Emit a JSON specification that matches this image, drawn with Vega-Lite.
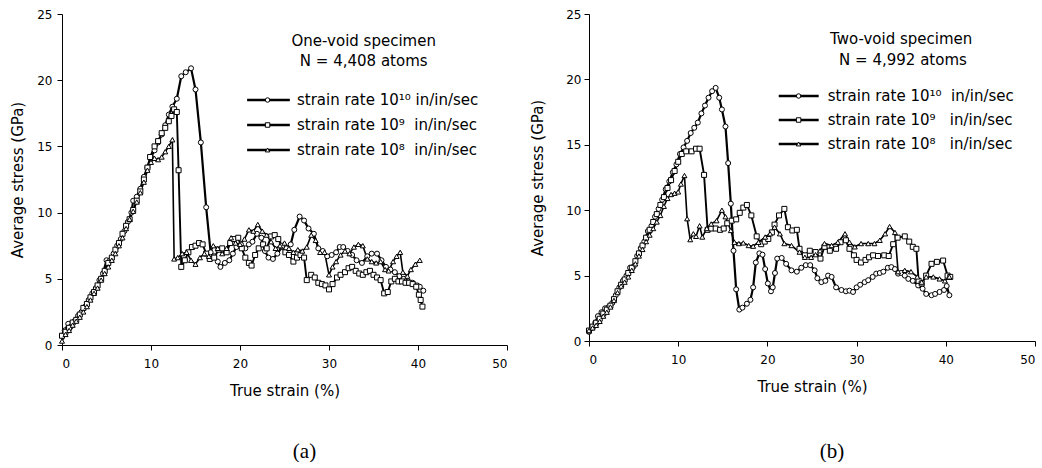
{
"$schema": "https://vega.github.io/schema/vega-lite/v6.json",
"padding": {"left": 10, "top": 8, "right": 0, "bottom": 0},
"bounds": "flush",
"spacing": 82,
"config": {
 "view": {"stroke": null},
 "font": "DejaVu Sans",
 "axis": {"grid": false, "domainColor": "black", "tickColor": "black", "labelColor": "black", "titleColor": "black", "labelFont": "DejaVu Sans", "labelFontSize": 12, "titleFont": "DejaVu Sans", "titleFontSize": 15, "titleFontWeight": "normal", "tickSize": 5, "domainWidth": 1, "tickWidth": 1},
 "title": {"font": "Liberation Serif", "fontSize": 21, "fontWeight": "normal", "color": "black"}
},
"datasets": {
"a": [
{"s":"r10","x":0,"y":0.7},{"s":"r10","x":0.3,"y":1.1},{"s":"r10","x":0.7,"y":1.6},{"s":"r10","x":1.0,"y":1.4},{"s":"r10","x":1.4,"y":1.8},{"s":"r10","x":1.8,"y":2.2},{"s":"r10","x":2.2,"y":2.5},{"s":"r10","x":2.6,"y":2.9},{"s":"r10","x":3.0,"y":3.4},{"s":"r10","x":3.4,"y":3.9},{"s":"r10","x":3.8,"y":4.3},{"s":"r10","x":4.2,"y":4.9},{"s":"r10","x":4.6,"y":5.4},{"s":"r10","x":5.0,"y":6.4},{"s":"r10","x":5.4,"y":6.4},{"s":"r10","x":5.8,"y":6.9},{"s":"r10","x":6.2,"y":7.5},{"s":"r10","x":6.6,"y":8.0},{"s":"r10","x":7.0,"y":8.6},{"s":"r10","x":7.4,"y":9.3},{"s":"r10","x":7.8,"y":10.0},{"s":"r10","x":8.0,"y":10.9},{"s":"r10","x":8.4,"y":11.2},{"s":"r10","x":8.8,"y":11.8},{"s":"r10","x":9.2,"y":12.7},{"s":"r10","x":9.6,"y":13.4},{"s":"r10","x":10.0,"y":14.2},{"s":"r10","x":10.4,"y":14.7},{"s":"r10","x":10.8,"y":15.3},{"s":"r10","x":11.2,"y":15.9},{"s":"r10","x":11.6,"y":16.6},{"s":"r10","x":12.0,"y":17.4},{"s":"r10","x":12.4,"y":18.0},{"s":"r10","x":12.9,"y":18.6},{"s":"r10","x":13.4,"y":20.3},{"s":"r10","x":13.9,"y":20.6},{"s":"r10","x":14.5,"y":20.9},{"s":"r10","x":15.0,"y":19.3},{"s":"r10","x":15.6,"y":15.3},{"s":"r10","x":16.2,"y":10.4},{"s":"r10","x":16.7,"y":7.0},{"s":"r10","x":17.1,"y":6.7},{"s":"r10","x":17.5,"y":6.3},{"s":"r10","x":17.8,"y":5.9},{"s":"r10","x":18.3,"y":6.2},{"s":"r10","x":18.8,"y":6.4},{"s":"r10","x":19.2,"y":6.9},{"s":"r10","x":19.6,"y":7.4},{"s":"r10","x":20.1,"y":7.6},{"s":"r10","x":20.6,"y":7.3},{"s":"r10","x":21.0,"y":7.6},{"s":"r10","x":21.4,"y":7.8},{"s":"r10","x":21.9,"y":8.4},{"s":"r10","x":22.4,"y":8.1},{"s":"r10","x":22.8,"y":7.1},{"s":"r10","x":23.2,"y":6.6},{"s":"r10","x":23.7,"y":6.5},{"s":"r10","x":24.2,"y":6.9},{"s":"r10","x":24.7,"y":7.4},{"s":"r10","x":25.2,"y":7.3},{"s":"r10","x":25.7,"y":7.6},{"s":"r10","x":26.1,"y":8.7},{"s":"r10","x":26.7,"y":9.7},{"s":"r10","x":27.2,"y":9.4},{"s":"r10","x":27.7,"y":8.8},{"s":"r10","x":28.3,"y":8.4},{"s":"r10","x":28.8,"y":7.3},{"s":"r10","x":29.3,"y":7.1},{"s":"r10","x":29.8,"y":6.7},{"s":"r10","x":30.3,"y":6.8},{"s":"r10","x":30.8,"y":7.0},{"s":"r10","x":31.2,"y":7.4},{"s":"r10","x":31.6,"y":7.4},{"s":"r10","x":32.1,"y":7.1},{"s":"r10","x":32.6,"y":6.8},{"s":"r10","x":33.1,"y":6.4},{"s":"r10","x":33.7,"y":6.2},{"s":"r10","x":34.3,"y":6.7},{"s":"r10","x":34.8,"y":6.9},{"s":"r10","x":35.4,"y":6.9},{"s":"r10","x":35.9,"y":6.4},{"s":"r10","x":36.4,"y":5.9},{"s":"r10","x":36.9,"y":5.7},{"s":"r10","x":37.4,"y":5.5},{"s":"r10","x":37.9,"y":5.2},{"s":"r10","x":38.4,"y":5.0},{"s":"r10","x":38.9,"y":4.8},{"s":"r10","x":39.4,"y":4.7},{"s":"r10","x":39.9,"y":4.5},{"s":"r10","x":40.2,"y":4.4},{"s":"r10","x":40.6,"y":4.1},
{"s":"r9","x":0,"y":0.7},{"s":"r9","x":0.4,"y":1.0},{"s":"r9","x":0.8,"y":1.3},{"s":"r9","x":1.2,"y":1.7},{"s":"r9","x":1.6,"y":1.9},{"s":"r9","x":2.0,"y":2.3},{"s":"r9","x":2.4,"y":2.8},{"s":"r9","x":2.8,"y":3.1},{"s":"r9","x":3.2,"y":3.6},{"s":"r9","x":3.6,"y":4.0},{"s":"r9","x":4.0,"y":4.5},{"s":"r9","x":4.4,"y":5.0},{"s":"r9","x":4.8,"y":5.6},{"s":"r9","x":5.2,"y":6.2},{"s":"r9","x":5.6,"y":6.6},{"s":"r9","x":6.0,"y":7.2},{"s":"r9","x":6.4,"y":7.7},{"s":"r9","x":6.8,"y":8.4},{"s":"r9","x":7.2,"y":9.0},{"s":"r9","x":7.6,"y":9.5},{"s":"r9","x":8.0,"y":10.2},{"s":"r9","x":8.4,"y":10.9},{"s":"r9","x":8.8,"y":11.6},{"s":"r9","x":9.2,"y":12.5},{"s":"r9","x":9.6,"y":13.4},{"s":"r9","x":9.9,"y":14.2},{"s":"r9","x":10.4,"y":15.0},{"s":"r9","x":10.8,"y":15.4},{"s":"r9","x":11.2,"y":16.0},{"s":"r9","x":11.6,"y":16.4},{"s":"r9","x":12.0,"y":16.9},{"s":"r9","x":12.3,"y":17.3},{"s":"r9","x":12.6,"y":17.8},{"s":"r9","x":12.9,"y":17.6},{"s":"r9","x":13.1,"y":13.2},{"s":"r9","x":13.4,"y":5.9},{"s":"r9","x":13.8,"y":6.4},{"s":"r9","x":14.2,"y":7.0},{"s":"r9","x":14.6,"y":7.4},{"s":"r9","x":15.0,"y":7.5},{"s":"r9","x":15.4,"y":7.7},{"s":"r9","x":15.8,"y":7.6},{"s":"r9","x":16.2,"y":6.9},{"s":"r9","x":16.6,"y":6.5},{"s":"r9","x":17.1,"y":6.6},{"s":"r9","x":17.6,"y":7.2},{"s":"r9","x":18.0,"y":7.3},{"s":"r9","x":18.5,"y":7.0},{"s":"r9","x":18.9,"y":7.7},{"s":"r9","x":19.3,"y":8.0},{"s":"r9","x":19.8,"y":8.1},{"s":"r9","x":20.2,"y":7.3},{"s":"r9","x":20.6,"y":6.6},{"s":"r9","x":21.0,"y":6.2},{"s":"r9","x":21.3,"y":6.0},{"s":"r9","x":21.7,"y":6.8},{"s":"r9","x":22.1,"y":7.3},{"s":"r9","x":22.6,"y":7.6},{"s":"r9","x":23.0,"y":7.3},{"s":"r9","x":23.5,"y":8.2},{"s":"r9","x":23.9,"y":8.3},{"s":"r9","x":24.3,"y":8.0},{"s":"r9","x":24.7,"y":7.5},{"s":"r9","x":25.1,"y":7.0},{"s":"r9","x":25.5,"y":6.8},{"s":"r9","x":26.0,"y":6.3},{"s":"r9","x":26.4,"y":6.6},{"s":"r9","x":26.8,"y":6.8},{"s":"r9","x":27.2,"y":6.6},{"s":"r9","x":27.5,"y":4.9},{"s":"r9","x":28.0,"y":5.3},{"s":"r9","x":28.4,"y":5.1},{"s":"r9","x":28.8,"y":4.7},{"s":"r9","x":29.2,"y":4.6},{"s":"r9","x":29.6,"y":4.5},{"s":"r9","x":30.0,"y":4.2},{"s":"r9","x":30.4,"y":4.6},{"s":"r9","x":30.9,"y":5.1},{"s":"r9","x":31.3,"y":5.3},{"s":"r9","x":31.8,"y":5.5},{"s":"r9","x":32.2,"y":5.8},{"s":"r9","x":32.6,"y":5.9},{"s":"r9","x":33.0,"y":5.6},{"s":"r9","x":33.4,"y":5.4},{"s":"r9","x":33.8,"y":5.3},{"s":"r9","x":34.2,"y":5.5},{"s":"r9","x":34.6,"y":5.6},{"s":"r9","x":35.0,"y":5.3},{"s":"r9","x":35.4,"y":5.1},{"s":"r9","x":35.8,"y":4.9},{"s":"r9","x":36.2,"y":3.9},{"s":"r9","x":36.6,"y":4.0},{"s":"r9","x":37.0,"y":4.8},{"s":"r9","x":37.4,"y":5.0},{"s":"r9","x":37.8,"y":4.8},{"s":"r9","x":38.2,"y":4.8},{"s":"r9","x":38.6,"y":4.7},{"s":"r9","x":39.0,"y":4.7},{"s":"r9","x":39.4,"y":4.6},{"s":"r9","x":39.8,"y":4.4},{"s":"r9","x":40.1,"y":3.8},{"s":"r9","x":40.3,"y":3.4},{"s":"r9","x":40.5,"y":2.9},
{"s":"r8","x":0,"y":0.3},{"s":"r8","x":0.4,"y":0.8},{"s":"r8","x":0.8,"y":1.1},{"s":"r8","x":1.2,"y":1.5},{"s":"r8","x":1.6,"y":1.8},{"s":"r8","x":2.0,"y":2.1},{"s":"r8","x":2.4,"y":2.5},{"s":"r8","x":2.8,"y":2.9},{"s":"r8","x":3.2,"y":3.4},{"s":"r8","x":3.6,"y":3.9},{"s":"r8","x":4.0,"y":4.3},{"s":"r8","x":4.4,"y":4.9},{"s":"r8","x":4.8,"y":5.4},{"s":"r8","x":5.2,"y":5.9},{"s":"r8","x":5.6,"y":6.4},{"s":"r8","x":6.0,"y":6.9},{"s":"r8","x":6.4,"y":7.5},{"s":"r8","x":6.8,"y":8.1},{"s":"r8","x":7.2,"y":8.8},{"s":"r8","x":7.6,"y":9.5},{"s":"r8","x":8.0,"y":10.1},{"s":"r8","x":8.4,"y":10.8},{"s":"r8","x":8.8,"y":11.5},{"s":"r8","x":9.2,"y":12.3},{"s":"r8","x":9.6,"y":13.2},{"s":"r8","x":10.0,"y":13.8},{"s":"r8","x":10.4,"y":14.1},{"s":"r8","x":10.8,"y":14.0},{"s":"r8","x":11.2,"y":14.2},{"s":"r8","x":11.6,"y":14.6},{"s":"r8","x":12.0,"y":15.0},{"s":"r8","x":12.4,"y":15.5},{"s":"r8","x":12.6,"y":6.5},{"s":"r8","x":13.0,"y":6.6},{"s":"r8","x":13.5,"y":6.9},{"s":"r8","x":14.0,"y":7.0},{"s":"r8","x":14.5,"y":6.4},{"s":"r8","x":15.0,"y":6.1},{"s":"r8","x":15.5,"y":6.6},{"s":"r8","x":16.0,"y":6.9},{"s":"r8","x":16.5,"y":6.7},{"s":"r8","x":17.0,"y":7.5},{"s":"r8","x":17.5,"y":7.3},{"s":"r8","x":18.0,"y":6.9},{"s":"r8","x":18.5,"y":7.3},{"s":"r8","x":19.0,"y":8.1},{"s":"r8","x":19.5,"y":7.7},{"s":"r8","x":20.0,"y":7.6},{"s":"r8","x":20.5,"y":8.0},{"s":"r8","x":21.0,"y":8.7},{"s":"r8","x":21.5,"y":8.6},{"s":"r8","x":22.0,"y":9.1},{"s":"r8","x":22.5,"y":8.6},{"s":"r8","x":23.0,"y":8.3},{"s":"r8","x":23.5,"y":7.8},{"s":"r8","x":24.0,"y":7.3},{"s":"r8","x":24.5,"y":7.5},{"s":"r8","x":25.0,"y":7.7},{"s":"r8","x":25.5,"y":7.3},{"s":"r8","x":26.0,"y":7.0},{"s":"r8","x":26.5,"y":7.2},{"s":"r8","x":27.0,"y":7.1},{"s":"r8","x":27.5,"y":7.4},{"s":"r8","x":28.0,"y":8.3},{"s":"r8","x":28.5,"y":7.9},{"s":"r8","x":29.0,"y":7.0},{"s":"r8","x":29.5,"y":7.0},{"s":"r8","x":30.0,"y":5.3},{"s":"r8","x":30.4,"y":5.9},{"s":"r8","x":30.8,"y":6.3},{"s":"r8","x":31.3,"y":6.8},{"s":"r8","x":31.8,"y":7.1},{"s":"r8","x":32.3,"y":6.9},{"s":"r8","x":32.8,"y":7.4},{"s":"r8","x":33.3,"y":7.6},{"s":"r8","x":33.8,"y":7.5},{"s":"r8","x":34.3,"y":6.5},{"s":"r8","x":34.8,"y":6.3},{"s":"r8","x":35.3,"y":6.2},{"s":"r8","x":35.8,"y":6.3},{"s":"r8","x":36.3,"y":5.7},{"s":"r8","x":36.7,"y":5.6},{"s":"r8","x":37.2,"y":6.3},{"s":"r8","x":37.6,"y":6.7},{"s":"r8","x":38.0,"y":7.0},{"s":"r8","x":38.3,"y":5.5},{"s":"r8","x":38.8,"y":5.2},{"s":"r8","x":39.2,"y":5.7},{"s":"r8","x":39.7,"y":6.1},{"s":"r8","x":40.2,"y":6.4}
],
"b": [
{"s":"r10","x":0,"y":0.7},{"s":"r10","x":0.35,"y":1.0},{"s":"r10","x":0.7,"y":1.4},{"s":"r10","x":1.0,"y":1.9},{"s":"r10","x":1.4,"y":2.2},{"s":"r10","x":1.8,"y":2.5},{"s":"r10","x":2.2,"y":2.6},{"s":"r10","x":2.6,"y":2.9},{"s":"r10","x":3.0,"y":3.5},{"s":"r10","x":3.4,"y":4.1},{"s":"r10","x":3.8,"y":4.6},{"s":"r10","x":4.2,"y":5.0},{"s":"r10","x":4.6,"y":5.6},{"s":"r10","x":5.0,"y":5.7},{"s":"r10","x":5.4,"y":6.5},{"s":"r10","x":5.8,"y":7.1},{"s":"r10","x":6.2,"y":7.6},{"s":"r10","x":6.6,"y":8.4},{"s":"r10","x":7.0,"y":8.8},{"s":"r10","x":7.4,"y":9.5},{"s":"r10","x":7.8,"y":10.1},{"s":"r10","x":8.2,"y":10.8},{"s":"r10","x":8.6,"y":11.6},{"s":"r10","x":9.0,"y":12.2},{"s":"r10","x":9.4,"y":12.9},{"s":"r10","x":9.8,"y":13.5},{"s":"r10","x":10.2,"y":14.3},{"s":"r10","x":10.6,"y":14.8},{"s":"r10","x":11.0,"y":15.3},{"s":"r10","x":11.4,"y":15.9},{"s":"r10","x":11.8,"y":16.3},{"s":"r10","x":12.2,"y":16.7},{"s":"r10","x":12.6,"y":17.4},{"s":"r10","x":13.0,"y":18.0},{"s":"r10","x":13.4,"y":18.6},{"s":"r10","x":13.8,"y":19.1},{"s":"r10","x":14.2,"y":19.35},{"s":"r10","x":14.6,"y":18.6},{"s":"r10","x":14.9,"y":17.7},{"s":"r10","x":15.3,"y":16.4},{"s":"r10","x":15.6,"y":13.6},{"s":"r10","x":15.9,"y":10.5},{"s":"r10","x":16.2,"y":6.9},{"s":"r10","x":16.5,"y":3.95},{"s":"r10","x":16.85,"y":2.4},{"s":"r10","x":17.2,"y":2.55},{"s":"r10","x":17.7,"y":2.85},{"s":"r10","x":18.1,"y":3.15},{"s":"r10","x":18.4,"y":4.1},{"s":"r10","x":18.7,"y":6.0},{"s":"r10","x":19.1,"y":6.7},{"s":"r10","x":19.45,"y":6.6},{"s":"r10","x":19.75,"y":5.5},{"s":"r10","x":20.05,"y":4.4},{"s":"r10","x":20.4,"y":3.8},{"s":"r10","x":20.6,"y":4.1},{"s":"r10","x":20.85,"y":5.2},{"s":"r10","x":21.1,"y":6.3},{"s":"r10","x":21.6,"y":6.35},{"s":"r10","x":22.1,"y":5.9},{"s":"r10","x":22.7,"y":5.4},{"s":"r10","x":23.3,"y":5.3},{"s":"r10","x":23.8,"y":5.6},{"s":"r10","x":24.3,"y":5.8},{"s":"r10","x":24.8,"y":5.8},{"s":"r10","x":25.3,"y":5.4},{"s":"r10","x":25.6,"y":4.8},{"s":"r10","x":26.05,"y":4.5},{"s":"r10","x":26.5,"y":4.6},{"s":"r10","x":26.8,"y":5.0},{"s":"r10","x":27.2,"y":4.9},{"s":"r10","x":27.7,"y":4.1},{"s":"r10","x":28.3,"y":3.9},{"s":"r10","x":28.8,"y":3.8},{"s":"r10","x":29.2,"y":3.85},{"s":"r10","x":29.6,"y":3.75},{"s":"r10","x":30.0,"y":4.1},{"s":"r10","x":30.4,"y":4.3},{"s":"r10","x":30.9,"y":4.5},{"s":"r10","x":31.3,"y":4.65},{"s":"r10","x":31.8,"y":4.9},{"s":"r10","x":32.2,"y":5.15},{"s":"r10","x":32.6,"y":5.2},{"s":"r10","x":33.0,"y":5.3},{"s":"r10","x":33.5,"y":5.6},{"s":"r10","x":33.9,"y":5.65},{"s":"r10","x":34.3,"y":5.5},{"s":"r10","x":34.65,"y":5.15},{"s":"r10","x":35.0,"y":5.2},{"s":"r10","x":35.4,"y":5.0},{"s":"r10","x":35.8,"y":4.75},{"s":"r10","x":36.3,"y":4.6},{"s":"r10","x":36.9,"y":4.25},{"s":"r10","x":37.4,"y":4.0},{"s":"r10","x":37.8,"y":3.6},{"s":"r10","x":38.4,"y":3.5},{"s":"r10","x":38.8,"y":3.6},{"s":"r10","x":39.3,"y":3.75},{"s":"r10","x":39.8,"y":3.9},{"s":"r10","x":40.1,"y":4.2},{"s":"r10","x":40.4,"y":3.5},
{"s":"r9","x":0,"y":0.8},{"s":"r9","x":0.4,"y":1.1},{"s":"r9","x":0.8,"y":1.4},{"s":"r9","x":1.2,"y":1.7},{"s":"r9","x":1.6,"y":2.1},{"s":"r9","x":2.0,"y":2.4},{"s":"r9","x":2.4,"y":2.7},{"s":"r9","x":2.8,"y":3.2},{"s":"r9","x":3.2,"y":3.8},{"s":"r9","x":3.6,"y":4.3},{"s":"r9","x":4.0,"y":4.7},{"s":"r9","x":4.4,"y":5.2},{"s":"r9","x":4.8,"y":5.6},{"s":"r9","x":5.2,"y":6.1},{"s":"r9","x":5.6,"y":6.7},{"s":"r9","x":6.0,"y":7.3},{"s":"r9","x":6.4,"y":7.9},{"s":"r9","x":6.8,"y":8.5},{"s":"r9","x":7.2,"y":9.1},{"s":"r9","x":7.6,"y":9.7},{"s":"r9","x":8.0,"y":10.4},{"s":"r9","x":8.4,"y":11.0},{"s":"r9","x":8.8,"y":11.7},{"s":"r9","x":9.2,"y":12.3},{"s":"r9","x":9.6,"y":13.0},{"s":"r9","x":10.0,"y":13.7},{"s":"r9","x":10.4,"y":14.3},{"s":"r9","x":10.9,"y":14.5},{"s":"r9","x":11.5,"y":14.5},{"s":"r9","x":12.0,"y":14.7},{"s":"r9","x":12.4,"y":14.7},{"s":"r9","x":12.9,"y":12.7},{"s":"r9","x":13.3,"y":8.5},{"s":"r9","x":13.7,"y":8.6},{"s":"r9","x":14.2,"y":8.6},{"s":"r9","x":14.7,"y":8.5},{"s":"r9","x":15.1,"y":8.6},{"s":"r9","x":15.5,"y":9.0},{"s":"r9","x":16.0,"y":9.2},{"s":"r9","x":16.5,"y":9.3},{"s":"r9","x":16.9,"y":9.8},{"s":"r9","x":17.3,"y":10.2},{"s":"r9","x":17.7,"y":10.4},{"s":"r9","x":18.2,"y":9.6},{"s":"r9","x":18.8,"y":8.0},{"s":"r9","x":19.3,"y":7.4},{"s":"r9","x":19.7,"y":7.6},{"s":"r9","x":20.1,"y":7.8},{"s":"r9","x":20.5,"y":8.3},{"s":"r9","x":20.8,"y":8.9},{"s":"r9","x":21.3,"y":9.6},{"s":"r9","x":21.9,"y":10.1},{"s":"r9","x":22.3,"y":8.7},{"s":"r9","x":22.8,"y":8.45},{"s":"r9","x":23.3,"y":8.5},{"s":"r9","x":23.6,"y":7.05},{"s":"r9","x":24.2,"y":6.55},{"s":"r9","x":24.75,"y":6.9},{"s":"r9","x":25.4,"y":6.8},{"s":"r9","x":25.95,"y":6.3},{"s":"r9","x":26.4,"y":7.2},{"s":"r9","x":27.0,"y":6.9},{"s":"r9","x":27.7,"y":7.05},{"s":"r9","x":28.2,"y":7.55},{"s":"r9","x":28.8,"y":7.7},{"s":"r9","x":29.2,"y":7.05},{"s":"r9","x":29.7,"y":6.55},{"s":"r9","x":30.0,"y":6.2},{"s":"r9","x":30.5,"y":6.0},{"s":"r9","x":31.0,"y":6.2},{"s":"r9","x":31.4,"y":6.4},{"s":"r9","x":31.85,"y":6.55},{"s":"r9","x":32.4,"y":6.5},{"s":"r9","x":33.1,"y":6.55},{"s":"r9","x":33.6,"y":6.5},{"s":"r9","x":34.1,"y":7.4},{"s":"r9","x":34.6,"y":7.9},{"s":"r9","x":35.4,"y":8.0},{"s":"r9","x":35.9,"y":7.6},{"s":"r9","x":36.3,"y":7.2},{"s":"r9","x":36.7,"y":7.05},{"s":"r9","x":36.95,"y":4.6},{"s":"r9","x":37.3,"y":4.4},{"s":"r9","x":37.8,"y":5.0},{"s":"r9","x":38.4,"y":5.9},{"s":"r9","x":39.0,"y":6.05},{"s":"r9","x":39.7,"y":6.15},{"s":"r9","x":40.2,"y":5.0},{"s":"r9","x":40.5,"y":4.9},
{"s":"r8","x":0,"y":0.8},{"s":"r8","x":0.4,"y":1.0},{"s":"r8","x":0.8,"y":1.2},{"s":"r8","x":1.2,"y":1.5},{"s":"r8","x":1.6,"y":1.9},{"s":"r8","x":2.0,"y":2.2},{"s":"r8","x":2.4,"y":2.6},{"s":"r8","x":2.8,"y":3.1},{"s":"r8","x":3.2,"y":3.7},{"s":"r8","x":3.6,"y":4.2},{"s":"r8","x":4.0,"y":4.5},{"s":"r8","x":4.4,"y":4.9},{"s":"r8","x":4.8,"y":5.4},{"s":"r8","x":5.2,"y":5.9},{"s":"r8","x":5.6,"y":6.5},{"s":"r8","x":6.0,"y":7.0},{"s":"r8","x":6.4,"y":7.6},{"s":"r8","x":6.8,"y":8.1},{"s":"r8","x":7.2,"y":8.6},{"s":"r8","x":7.6,"y":9.1},{"s":"r8","x":8.0,"y":9.6},{"s":"r8","x":8.4,"y":10.3},{"s":"r8","x":8.8,"y":10.9},{"s":"r8","x":9.2,"y":11.2},{"s":"r8","x":9.6,"y":11.3},{"s":"r8","x":10.0,"y":11.4},{"s":"r8","x":10.3,"y":12.0},{"s":"r8","x":10.7,"y":12.65},{"s":"r8","x":11.0,"y":9.35},{"s":"r8","x":11.35,"y":7.75},{"s":"r8","x":11.7,"y":8.2},{"s":"r8","x":12.0,"y":8.0},{"s":"r8","x":12.4,"y":8.8},{"s":"r8","x":12.7,"y":7.95},{"s":"r8","x":13.2,"y":8.6},{"s":"r8","x":13.7,"y":8.95},{"s":"r8","x":14.3,"y":9.2},{"s":"r8","x":14.9,"y":10.0},{"s":"r8","x":15.3,"y":9.5},{"s":"r8","x":15.9,"y":8.45},{"s":"r8","x":16.3,"y":7.55},{"s":"r8","x":16.8,"y":7.45},{"s":"r8","x":17.3,"y":7.5},{"s":"r8","x":17.9,"y":7.3},{"s":"r8","x":18.4,"y":7.25},{"s":"r8","x":19.0,"y":7.55},{"s":"r8","x":19.75,"y":7.95},{"s":"r8","x":20.3,"y":8.2},{"s":"r8","x":20.8,"y":8.7},{"s":"r8","x":21.4,"y":8.2},{"s":"r8","x":21.9,"y":7.45},{"s":"r8","x":22.7,"y":7.3},{"s":"r8","x":23.6,"y":6.8},{"s":"r8","x":24.2,"y":6.4},{"s":"r8","x":24.9,"y":6.4},{"s":"r8","x":25.4,"y":6.6},{"s":"r8","x":25.9,"y":6.9},{"s":"r8","x":26.4,"y":7.45},{"s":"r8","x":27.2,"y":7.3},{"s":"r8","x":27.9,"y":7.55},{"s":"r8","x":28.7,"y":8.2},{"s":"r8","x":29.2,"y":7.55},{"s":"r8","x":29.8,"y":7.2},{"s":"r8","x":30.5,"y":7.45},{"s":"r8","x":31.3,"y":7.45},{"s":"r8","x":32.0,"y":7.45},{"s":"r8","x":32.6,"y":7.7},{"s":"r8","x":33.2,"y":8.2},{"s":"r8","x":33.7,"y":8.75},{"s":"r8","x":34.3,"y":8.3},{"s":"r8","x":34.65,"y":5.3},{"s":"r8","x":35.4,"y":5.4},{"s":"r8","x":36.1,"y":5.3},{"s":"r8","x":36.8,"y":4.9},{"s":"r8","x":37.3,"y":4.5},{"s":"r8","x":37.8,"y":4.9},{"s":"r8","x":38.6,"y":4.9},{"s":"r8","x":39.3,"y":4.75},{"s":"r8","x":39.9,"y":4.6},{"s":"r8","x":40.4,"y":4.9}
]
},
"resolve": {"scale": {"shape": "independent", "strokeWidth": "independent"}},
"hconcat": [
{
 "width": 445, "height": 331,
 "data": {"name": "a"},
 "title": {"text": "(a)", "orient": "bottom", "anchor": "middle", "frame": "group", "dx": 20, "offset": 43},
 "resolve": {"scale": {"y": "independent"}},
 "layer": [
  {
   "encoding": {
    "x": {"field": "x", "type": "quantitative", "scale": {"domain": [0, 50], "nice": false}, "axis": {"title": "True strain (%)", "values": [0,10,20,30,40,50], "labelPadding": 8, "titlePadding": 14}},
    "y": {"field": "y", "type": "quantitative", "scale": {"domain": [0, 25], "nice": false}, "axis": {"title": "Average stress (GPa)", "values": [0,5,10,15,20,25], "labelPadding": 5, "titlePadding": 11}}
   },
   "layer": [
    {"mark": {"type": "line", "stroke": "black"},
     "encoding": {"detail": {"field": "s"}, "strokeWidth": {"field": "s", "type": "nominal", "scale": {"domain": ["r10","r9","r8"], "range": [2.2,1.6,1.6]}, "legend": null}}},
    {"mark": {"type": "point", "filled": true, "fill": "white", "stroke": "black", "strokeWidth": 1, "size": 25, "opacity": 1},
     "encoding": {"shape": {"field": "s", "type": "nominal", "scale": {"domain": ["r10","r9","r8"], "range": ["circle","square","triangle-up"]}, "legend": null}}},
    {"transform": [{"filter": "datum.x == 0 && datum.s == 'r10'"}],
     "mark": {"type": "text", "align": "center", "baseline": "alphabetic", "fontSize": 15, "fill": "black"},
     "encoding": {"x": {"datum": 33.9}, "y": {"datum": 22.6}, "text": {"value": "One-void specimen"}}},
    {"transform": [{"filter": "datum.x == 0 && datum.s == 'r10'"}],
     "mark": {"type": "text", "align": "center", "baseline": "alphabetic", "fontSize": 15, "fill": "black"},
     "encoding": {"x": {"datum": 33.9}, "y": {"datum": 21.05}, "text": {"value": "N = 4,408 atoms"}}}
   ]
  },
  {
   "transform": [{"filter": "datum.x == 0"}],
   "encoding": {"y": {"field": "s", "type": "nominal", "scale": {"type": "point", "domain": ["r10","r9","r8"], "range": [86, 136], "padding": 0}, "axis": null}},
   "layer": [
    {"mark": {"type": "rule", "stroke": "black", "strokeWidth": 2.5},
     "encoding": {"x": {"datum": 20.8}, "x2": {"datum": 25.6}}},
    {"mark": {"type": "point", "filled": true, "fill": "white", "stroke": "black", "strokeWidth": 1, "size": 20, "opacity": 1},
     "encoding": {"x": {"datum": 23.1}, "shape": {"field": "s", "type": "nominal", "scale": {"domain": ["r10","r9","r8"], "range": ["circle","square","triangle-up"]}, "legend": null}}},
    {"mark": {"type": "text", "align": "left", "baseline": "middle", "fontSize": 15, "fill": "black"},
     "encoding": {"x": {"datum": 26.4}, "text": {"condition": [{"test": "datum.s == 'r10'", "value": "strain rate 10¹⁰ in/in/sec"}, {"test": "datum.s == 'r9'", "value": "strain rate 10⁹\u00a0 in/in/sec"}], "value": "strain rate 10⁸\u00a0 in/in/sec"}}}
   ]
  }
 ]
},
{
 "width": 446, "height": 327,
 "data": {"name": "b"},
 "title": {"text": "(b)", "orient": "bottom", "anchor": "middle", "frame": "group", "dx": 20, "offset": 47},
 "resolve": {"scale": {"y": "independent"}},
 "layer": [
  {
   "encoding": {
    "x": {"field": "x", "type": "quantitative", "scale": {"domain": [0, 50], "nice": false}, "axis": {"title": "True strain (%)", "values": [0,10,20,30,40,50], "labelPadding": 8, "titlePadding": 14}},
    "y": {"field": "y", "type": "quantitative", "scale": {"domain": [0, 25], "nice": false}, "axis": {"title": "Average stress (GPa)", "values": [0,5,10,15,20,25], "labelPadding": 3, "titlePadding": 20}}
   },
   "layer": [
    {"mark": {"type": "line", "stroke": "black"},
     "encoding": {"detail": {"field": "s"}, "strokeWidth": {"field": "s", "type": "nominal", "scale": {"domain": ["r10","r9","r8"], "range": [2.2,1.6,1.6]}, "legend": null}}},
    {"mark": {"type": "point", "filled": true, "fill": "white", "stroke": "black", "strokeWidth": 1, "size": 25, "opacity": 1},
     "encoding": {"shape": {"field": "s", "type": "nominal", "scale": {"domain": ["r10","r9","r8"], "range": ["circle","square","triangle-up"]}, "legend": null}}},
    {"transform": [{"filter": "datum.x == 0 && datum.s == 'r10'"}],
     "mark": {"type": "text", "align": "center", "baseline": "alphabetic", "fontSize": 15, "fill": "black"},
     "encoding": {"x": {"datum": 35.0}, "y": {"datum": 22.7}, "text": {"value": "Two-void specimen"}}},
    {"transform": [{"filter": "datum.x == 0 && datum.s == 'r10'"}],
     "mark": {"type": "text", "align": "center", "baseline": "alphabetic", "fontSize": 15, "fill": "black"},
     "encoding": {"x": {"datum": 35.2}, "y": {"datum": 21.13}, "text": {"value": "N = 4,992 atoms"}}}
   ]
  },
  {
   "transform": [{"filter": "datum.x == 0"}],
   "encoding": {"y": {"field": "s", "type": "nominal", "scale": {"type": "point", "domain": ["r10","r9","r8"], "range": [82, 130], "padding": 0}, "axis": null}},
   "layer": [
    {"mark": {"type": "rule", "stroke": "black", "strokeWidth": 2.5},
     "encoding": {"x": {"datum": 21.27}, "x2": {"datum": 25.75}}},
    {"mark": {"type": "point", "filled": true, "fill": "white", "stroke": "black", "strokeWidth": 1, "size": 20, "opacity": 1},
     "encoding": {"x": {"datum": 23.5}, "shape": {"field": "s", "type": "nominal", "scale": {"domain": ["r10","r9","r8"], "range": ["circle","square","triangle-up"]}, "legend": null}}},
    {"mark": {"type": "text", "align": "left", "baseline": "middle", "fontSize": 15, "fill": "black"},
     "encoding": {"x": {"datum": 26.76}, "text": {"condition": [{"test": "datum.s == 'r10'", "value": "strain rate 10¹⁰\u00a0 in/in/sec"}, {"test": "datum.s == 'r9'", "value": "strain rate 10⁹\u00a0\u00a0 in/in/sec"}], "value": "strain rate 10⁸\u00a0\u00a0 in/in/sec"}}}
   ]
  }
 ]
}
]
}
